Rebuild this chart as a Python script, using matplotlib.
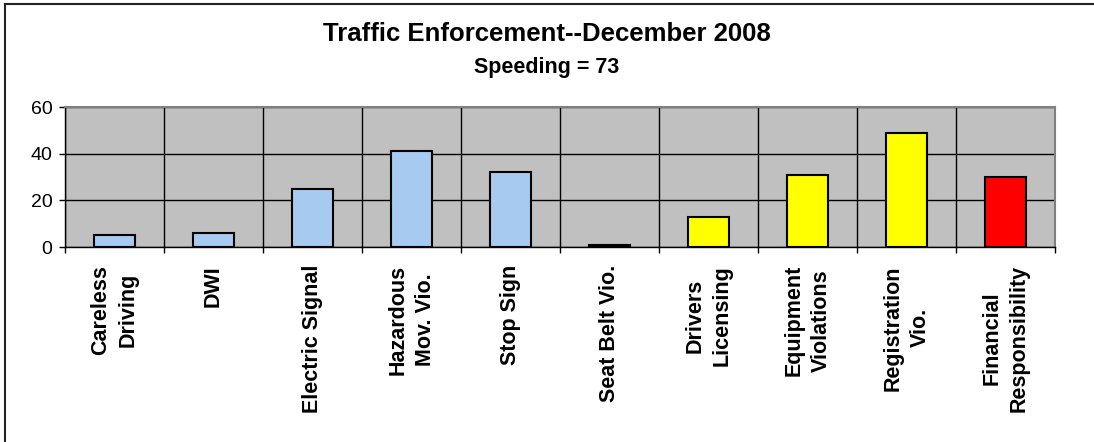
#!/usr/bin/env python3

import numpy as np
import matplotlib
matplotlib.use('Agg')
import matplotlib.pyplot as plt
from matplotlib.lines import Line2D

plt.rcParams['font.family'] = ['Liberation Sans', 'DejaVu Sans']

# Data
categories = ['Careless\nDriving', 'DWI', 'Electric Signal', 'Hazardous\nMov. Vio.',
              'Stop Sign', 'Seat Belt Vio.', 'Drivers\nLicensing', 'Equipment\nViolations',
              'Registration\nVio.', 'Financial\nResponsibility']
counts = [5, 6, 25, 41, 32, 1, 13, 31, 49, 30]
y_ticks = [0, 20, 40, 60]
title = 'Traffic Enforcement--December 2008'
subtitle = 'Speeding = 73'

# bar colours (blue / yellow / red groups)
bar_colors = ['#A6CAF0'] * 6 + ['#FFFF00'] * 3 + ['#FF0000']

fig = plt.figure(figsize=(10.94, 4.42), dpi=100)
W, H = 1094, 442

# outer chart border (only left and top visible)
fig.add_artist(Line2D([5 / W, 5 / W], [0, 1 - 4 / H], color='#222222', lw=1.5))
fig.add_artist(Line2D([5 / W, 1], [1 - 4 / H, 1 - 4 / H], color='#222222', lw=1.5))

ax = fig.add_axes([65 / W, 1 - 247 / H, (1055 - 65) / W, (247 - 107) / H])
ax.set_facecolor('#C0C0C0')

x = np.arange(len(categories))
ax.bar(x, counts, width=0.41, color=bar_colors, edgecolor='black', linewidth=1.5, zorder=3)

ax.set_xlim(-0.5, len(categories) - 0.5)
ax.set_ylim(0, 60)
ax.set_yticks(y_ticks)
ax.set_xticks(x)
ax.set_xticklabels(categories, rotation=90, fontsize=15.5, fontweight='bold',
                   multialignment='center', linespacing=1.4)
ax.set_xticks(np.arange(-0.5, len(categories), 1), minor=True)

ax.tick_params(axis='x', which='major', length=0, pad=13)
ax.tick_params(axis='x', which='minor', length=4, width=1, direction='out', color='black')
ax.tick_params(axis='y', length=4, width=1, direction='out', labelsize=14, pad=5)

ax.grid(axis='y', which='major', color='black', lw=1, zorder=1)
ax.grid(axis='x', which='minor', color='black', lw=1, zorder=1)
ax.set_axisbelow(True)

for side in ['top', 'right']:
    ax.spines[side].set_color('#808080')
    ax.spines[side].set_linewidth(1.5)
for side in ['left', 'bottom']:
    ax.spines[side].set_color('black')
    ax.spines[side].set_linewidth(1)

fig.text(0.5, 1 - 34 / H, title, ha='center', va='center', fontsize=18.5, fontweight='bold')
fig.text(0.5, 1 - 67 / H, subtitle, ha='center', va='center', fontsize=15.5, fontweight='bold')

plt.savefig('out.png', dpi=100)
